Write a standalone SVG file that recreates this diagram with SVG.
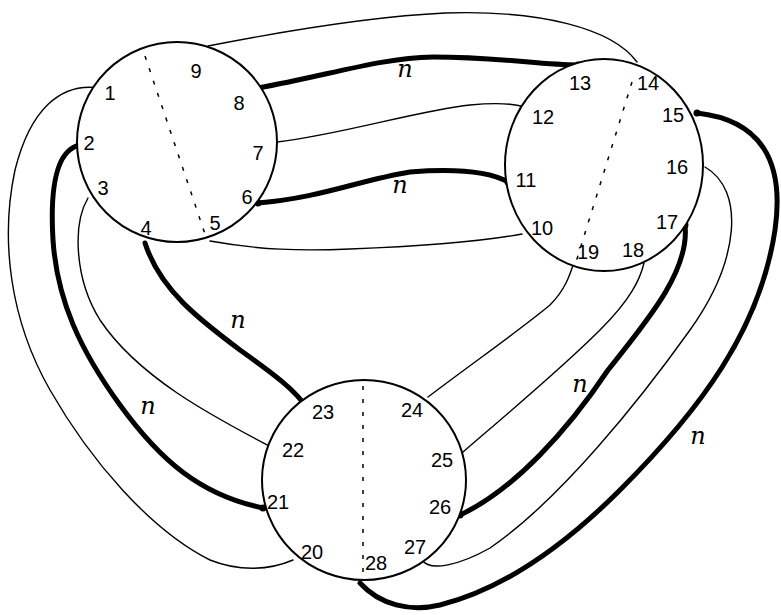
<svg xmlns="http://www.w3.org/2000/svg" width="781" height="615" viewBox="0 0 781 615">
<style>
.bg{fill:#fff}
.ring{fill:#fff;stroke:#000;stroke-width:2}
.cut{stroke:#000;stroke-width:1.5;stroke-dasharray:4 9;fill:none}
.num{font-family:"Liberation Sans",Arial,sans-serif;font-size:20px;fill:#000;text-anchor:middle}
.thin{fill:none;stroke:#000;stroke-width:1.4;stroke-linecap:round}
.thick{fill:none;stroke:#000;stroke-width:5;stroke-linecap:round}
.dot{fill:#000}
.n{font-family:"DejaVu Serif",serif;font-style:italic;font-size:24px;fill:#000;text-anchor:middle}
</style>
<rect class="bg" width="781" height="615"/>
<g id="connectors">
  <path class="thin" d="M208,46 C 300,28 380,16 445,13 C 540,10 612,28 637,62"/>
  <path class="thick" d="M258,88 C 330,75 380,58 433,57 C 500,57 540,65 578,65"/>
  <path class="thin" d="M277,142 C 340,135 420,110 470,105 C 500,102 515,104 525,107"/>
  <path class="thick" d="M258,203 C 320,198 360,180 410,172 C 460,168 490,172 508,182"/>
  <path class="thin" d="M210,241 C 260,250 300,251 350,249 C 430,246 490,240 522,234"/>
  <path class="thick" d="M145,243 C 160,290 200,320 240,350 C 275,375 295,390 307,408"/>
  <path class="thin" d="M88,198 C 72,225 75,280 100,320 C 140,380 220,420 273,448"/>
  <path class="thick" d="M80,145 C 55,150 50,190 53,240 C 57,300 80,350 120,405 C 160,460 200,495 263,508"/>
  <path class="thin" d="M100,88 C 60,82 30,110 15,170 C 0,240 10,320 50,390 C 90,460 150,530 210,560 C 240,572 270,570 293,560"/>
  <path class="thick" d="M360,583 C 380,605 410,612 440,605 C 500,590 560,550 620,490 C 700,410 760,330 775,230 C 785,160 760,120 697,113"/>
  <path class="thin" d="M422,560 C 430,572 460,565 490,548 C 560,500 640,400 690,330 C 740,260 745,190 705,167"/>
  <path class="thick" d="M460,515 C 514,490 568,430 608,370 C 648,320 690,270 685,225"/>
  <path class="thin" d="M463,452 C 500,420 560,370 600,330 C 630,300 640,280 644,263"/>
  <path class="thin" d="M428,397 C 470,365 520,330 550,305 C 565,290 570,275 574,262"/>
  <circle class="dot" cx="258" cy="88" r="3.5"/>
  <circle class="dot" cx="578" cy="65" r="3.5"/>
  <circle class="dot" cx="258" cy="203" r="3.5"/>
  <circle class="dot" cx="508" cy="182" r="3.5"/>
  <circle class="dot" cx="307" cy="408" r="3.5"/>
  <circle class="dot" cx="80" cy="145" r="3.5"/>
  <circle class="dot" cx="263" cy="508" r="3.5"/>
  <circle class="dot" cx="460" cy="515" r="3.5"/>
  <circle class="dot" cx="685" cy="225" r="3.5"/>
  <circle class="dot" cx="697" cy="113" r="3.5"/>
  <text class="n" x="405" y="77">n</text>
  <text class="n" x="400" y="193">n</text>
  <text class="n" x="238" y="328">n</text>
  <text class="n" x="148" y="414">n</text>
  <text class="n" x="580" y="392">n</text>
  <text class="n" x="698" y="444">n</text>
</g>
<g id="nodeA">
  <circle class="ring" cx="177" cy="142" r="100"/>
  <line class="cut" x1="145" y1="56" x2="207" y2="240"/>
  <text class="num" x="110" y="100">1</text>
  <text class="num" x="89" y="150">2</text>
  <text class="num" x="103" y="195">3</text>
  <text class="num" x="146" y="235">4</text>
  <text class="num" x="215" y="230">5</text>
  <text class="num" x="247" y="204">6</text>
  <text class="num" x="258" y="160">7</text>
  <text class="num" x="239" y="110">8</text>
  <text class="num" x="196" y="78">9</text>
</g>
<g id="nodeB">
  <ellipse class="ring" cx="604" cy="165" rx="99" ry="106"/>
  <line class="cut" x1="632" y1="82" x2="576" y2="262"/>
  <text class="num" x="542" y="235">10</text>
  <text class="num" x="526" y="187">11</text>
  <text class="num" x="543" y="124">12</text>
  <text class="num" x="580" y="90">13</text>
  <text class="num" x="648" y="90">14</text>
  <text class="num" x="673" y="122">15</text>
  <text class="num" x="677" y="174">16</text>
  <text class="num" x="667" y="229">17</text>
  <text class="num" x="633" y="257">18</text>
  <text class="num" x="588" y="259">19</text>
</g>
<g id="nodeC">
  <ellipse class="ring" cx="364" cy="480" rx="102" ry="100"/>
  <line class="cut" x1="363" y1="386" x2="363" y2="578"/>
  <text class="num" x="312" y="559">20</text>
  <text class="num" x="278" y="509">21</text>
  <text class="num" x="293" y="457">22</text>
  <text class="num" x="323" y="419">23</text>
  <text class="num" x="412" y="417">24</text>
  <text class="num" x="442" y="467">25</text>
  <text class="num" x="440" y="514">26</text>
  <text class="num" x="415" y="554">27</text>
  <text class="num" x="376" y="570">28</text>
</g>
</svg>
